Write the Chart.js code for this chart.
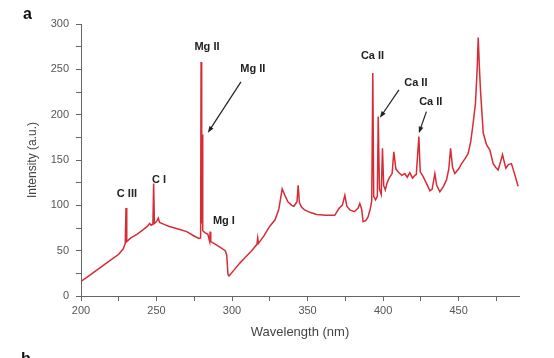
<!DOCTYPE html>
<html>
<head>
<meta charset="utf-8">
<script src="https://cdn.jsdelivr.net/npm/chart.js@4.4.0/dist/chart.umd.min.js"></script>
<style>body{margin:0;background:#fff}</style>
</head>
<body>
<canvas id="spectrum" width="554" height="358"></canvas>
<script>
// spectrum (nm, a.u.)
const wavelengths = [
    200, 205, 210, 215, 220, 225, 228, 229.3, 229.8, 230.3, 233, 237, 241, 244, 245.5, 246.5, 247.6, 248.1, 248.6, 250,
    251.2, 252, 255, 258, 262, 266, 270, 274, 278, 279.2, 279.5, 279.9, 280.2, 280.6, 282, 284, 285.2, 285.5, 285.9, 288,
    292, 295.5, 296.5, 297.3, 298, 301, 305, 309, 313, 316.5, 317, 317.5, 321, 325, 328.5, 331, 333.2, 335, 337, 339.5,
    341, 343, 343.8, 344.6, 346, 348, 352, 356, 362, 368, 371, 373, 374.7, 376, 378, 381, 383.5, 384.6, 385.8, 386.8,
    388.5, 390, 391.5, 392.5, 393.2, 393.8, 395, 396.2, 396.8, 397.6, 398.8, 399.6, 400.4, 401.5, 402.5, 404, 406, 407.1, 408.5, 410.5,
    412.5, 414.4, 416, 417.7, 419.5, 421, 422, 423.7, 424.6, 426.5, 428.5, 431, 432.5, 434.3, 435.5, 437.6, 440, 442, 443.5, 444.7,
    446, 447.5, 450, 452, 454.5, 456.3, 458, 459.6, 461.2, 462.3, 463, 463.7, 464.5, 466.3, 468.5, 470.7, 472.9, 474.5, 476.2, 477.8,
    479.1, 480.2, 481.3, 483, 485, 487, 489.4
];
const intensities = [
    16, 22, 28, 34, 40, 46, 52, 58, 97, 60, 64, 68, 73, 77, 80, 78, 79, 124, 80, 82,
    86, 81, 79, 77, 75, 73, 71, 67, 63.5, 64, 258, 80, 178, 72, 70, 68, 60, 71, 60, 58,
    54, 50, 45, 24, 22, 28, 36, 43, 50, 57, 64, 58, 66, 77, 84, 96, 118, 111, 104, 100,
    99, 104, 122, 103, 98, 95, 92, 90, 89, 89, 97, 100, 111, 99, 95, 93, 97, 102, 96, 82,
    83, 87, 96, 105, 246, 110, 106, 110, 198, 118, 112, 163, 122, 117, 124, 130, 135, 159, 140, 136,
    133, 135, 131, 136, 130, 133, 134, 176, 137, 132, 125, 116, 118, 135, 122, 115, 121, 128, 140, 163,
    142, 135, 140, 146, 152, 157, 170, 190, 213, 250, 285, 255, 227, 180, 167, 161, 146, 142, 139, 148,
    156, 148, 141, 145, 146, 135, 121
];
const xLabels = [200, 250, 300, 350, 400, 450];
const yLabels = [0, 50, 100, 150, 200, 250, 300];
const lineNames = ['C III', 'C I', 'Mg II', 'Mg II', 'Mg I', 'Ca II', 'Ca II', 'Ca II'];

// where each name sits, in axis units
const nameSpots = [[230.4, 112.6], [251.6, 128], [283.4, 274.8], [313.8, 250.5], [294.6, 82.8], [393.0, 265], [421.7, 235.4], [431.6, 214.5]];
const arrowSpots = [
    [305.9, 236.2, 284.0, 180],
    [410.5, 227.4, 397.9, 196.5],
    [428.7, 203.4, 423.7, 179.6]
];

const annotate = {
    id: 'annotate',
    afterDraw(chart) {
        const { ctx, scales: { x, y } } = chart;
        ctx.save();
        ctx.fillStyle = '#222';
        ctx.font = 'bold 11px "Liberation Sans", Arial, sans-serif';
        ctx.textAlign = 'center';
        ctx.textBaseline = 'middle';
        lineNames.forEach((name, i) => {
            ctx.fillText(name, x.getPixelForValue(nameSpots[i][0]), y.getPixelForValue(nameSpots[i][1]));
        });

        ctx.strokeStyle = '#222';
        ctx.lineWidth = 1.2;
        arrowSpots.forEach(a => {
            const x0 = x.getPixelForValue(a[0]), y0 = y.getPixelForValue(a[1]);
            const x1 = x.getPixelForValue(a[2]), y1 = y.getPixelForValue(a[3]);
            const ang = Math.atan2(y1 - y0, x1 - x0);
            ctx.beginPath();
            ctx.moveTo(x0, y0);
            ctx.lineTo(x1 - 4 * Math.cos(ang), y1 - 4 * Math.sin(ang));
            ctx.stroke();
            ctx.beginPath();
            ctx.moveTo(x1, y1);
            ctx.lineTo(x1 - 7 * Math.cos(ang - 0.35), y1 - 7 * Math.sin(ang - 0.35));
            ctx.lineTo(x1 - 7 * Math.cos(ang + 0.35), y1 - 7 * Math.sin(ang + 0.35));
            ctx.closePath();
            ctx.fill();
        });

        // panel letters
        ctx.fillStyle = '#111';
        ctx.font = 'bold 16px "Liberation Sans", Arial, sans-serif';
        ctx.textAlign = 'left';
        ctx.fillText('a', 23, 15);
        ctx.textBaseline = 'top';
        ctx.fillText('b', 21, 352);
        ctx.restore();
    }
};

const tickFont = { family: '"Liberation Sans", Arial, sans-serif', size: 11 };

new Chart(document.getElementById('spectrum'), {
    type: 'line',
    data: {
        datasets: [{
            data: wavelengths.map((w, i) => ({ x: w, y: intensities[i] })),
            borderColor: '#d62c36',
            borderWidth: 1.5,
            pointRadius: 0,
            tension: 0
        }]
    },
    options: {
        responsive: false,
        animation: false,
        layout: { padding: { top: 24, right: 35, left: 0, bottom: 0 } },
        plugins: { legend: { display: false }, tooltip: { enabled: false } },
        scales: {
            x: {
                type: 'linear',
                min: 200,
                max: 490,
                afterFit: s => { s.height = 62; },
                border: { color: '#666', width: 1 },
                grid: { drawOnChartArea: false, color: '#666', tickLength: 5 },
                ticks: {
                    stepSize: 25,
                    includeBounds: false,
                    autoSkip: false,
                    maxRotation: 0,
                    padding: 3,
                    color: '#555',
                    font: tickFont,
                    callback: v => xLabels.includes(v) ? String(v) : ''
                },
                title: {
                    display: true,
                    text: 'Wavelength (nm)',
                    color: '#444',
                    font: { family: '"Liberation Sans", Arial, sans-serif', size: 13 },
                    padding: { top: 4, bottom: 18 }
                }
            },
            y: {
                min: 0,
                max: 300,
                afterFit: s => { s.width = 81; },
                border: { color: '#666', width: 1 },
                grid: { drawOnChartArea: false, color: '#666', tickLength: 5 },
                ticks: {
                    stepSize: 25,
                    autoSkip: false,
                    padding: 7,
                    color: '#555',
                    font: tickFont,
                    callback: v => yLabels.includes(v) ? String(v) : ''
                },
                title: {
                    display: true,
                    text: 'Intensity (a.u.)',
                    color: '#444',
                    font: { family: '"Liberation Sans", Arial, sans-serif', size: 12 },
                    padding: { top: 25, bottom: 4 }
                }
            }
        }
    },
    plugins: [annotate]
});
</script>
</body>
</html>
